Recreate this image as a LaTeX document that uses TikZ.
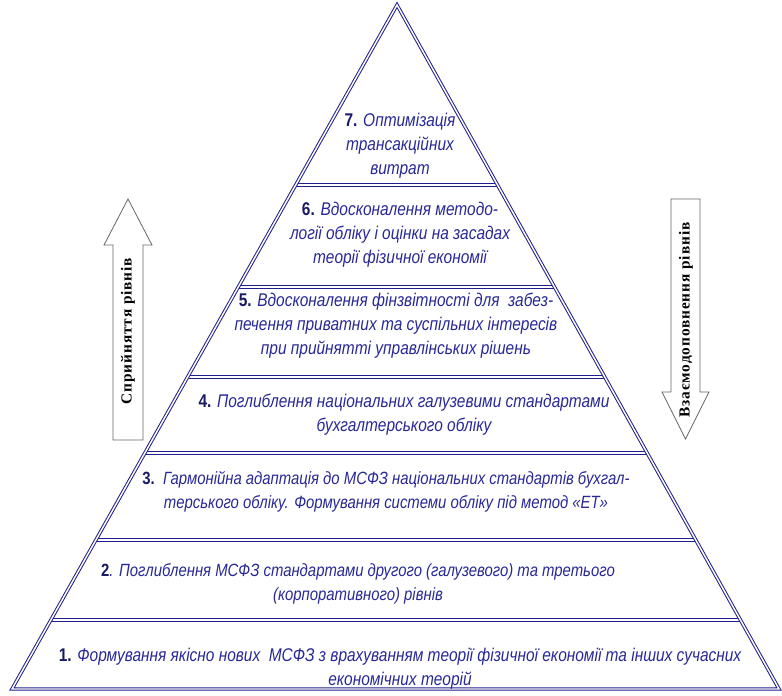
\documentclass[tikz,border=0pt]{standalone}
\usepackage{fontspec}
\setmainfont{Liberation Sans}[FakeStretch=0.84]
\newfontfamily\labelfont{Liberation Serif}[LetterSpace=6]
\usetikzlibrary{calc}

\definecolor{pyrblue}{RGB}{30,30,140}
\definecolor{txtblue}{RGB}{40,40,150}
\definecolor{numblue}{RGB}{25,25,100}

\tikzset{
  edge/.style={draw=pyrblue, line width=0.75pt, double=white, double distance=1.1pt},
  level/.style={font=\fontsize{13.8}{18}\selectfont\itshape, text=txtblue, align=center, inner sep=0pt},
  widelevel/.style={level, font=\fontsize{13.3}{18}\selectfont\itshape},
  sidearrow/.style={draw=black!60, fill=white, line width=0.6pt, line join=miter},
  sidelabel/.style={font=\labelfont\bfseries\fontsize{11.5}{13}\selectfont, rotate=90, inner sep=0pt}
}
\newcommand{\levelno}[1]{{\upshape\bfseries\color{numblue}#1}}

\begin{document}
\begin{tikzpicture}[x=0.75pt, y=-0.75pt]
  \useasboundingbox (0,0) rectangle (782,696);

  % corners of the pyramid
  \coordinate (apex) at (397,5);
  \coordinate (bl) at (12,689);
  \coordinate (br) at (779,689);

  % level dividers
  \foreach \y in {185,287,377,453,540,620} {
    \pgfmathsetmacro\t{(\y-5)/684}
    \draw[edge] ($(apex)!\t!(bl)$) -- ($(apex)!\t!(br)$);
  }
  \draw[edge] (apex) -- (br) -- (bl) -- cycle;

  % --- levels, from the top down ---
  \node[level] (l7) at (400,146) {\levelno{7.} Оптимізація\\трансакційних\\витрат};
  \node[level] (l6) at (400,235) {\levelno{6.} Вдосконалення методо-\\логії обліку і оцінки на засадах\\теорії фізичної економії};
  \node[level] (l5) at (396,326) {\levelno{5.} Вдосконалення фінзвітності для\ \ забез-\\печення приватних та суспільних інтересів\\при прийнятті управлінських рішень};
  \node[level] (l4) at (404,415) {\levelno{4.} Поглиблення національних галузевими стандартами\\бухгалтерського обліку};
  \node[widelevel] (l3) at (386,492) {\levelno{3.}\ \ Гармонійна адаптація до МСФЗ національних стандартів бухгал-\\терського обліку. Формування системи обліку під метод «ЕТ»};
  \node[widelevel] (l2) at (358,584) {\levelno{2}. Поглиблення МСФЗ стандартами другого (галузевого) та третього\\(корпоративного) рівнів};
  \node[level] (l1) at (400,669) {\levelno{1.} Формування якісно нових\ \ МСФЗ з врахуванням теорії фізичної економії та інших сучасних\\економічних теорій};

  % --- side arrows ---
  \draw[sidearrow] (113,440) -- (113,245) -- (104,245) -- (128,199)
    -- (152,245) -- (143,245) -- (143,440) -- cycle;
  \node[sidelabel] (up) at (128,331) {Сприйняття рівнів};

  \draw[sidearrow] (671,199) -- (700,199) -- (700,392) -- (709,392)
    -- (685.5,439) -- (662,392) -- (671,392) -- cycle;
  \node[sidelabel] (down) at (686,320) {Взаємодоповнення рівнів};
\end{tikzpicture}
\end{document}
